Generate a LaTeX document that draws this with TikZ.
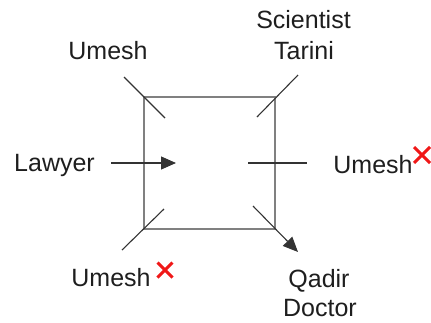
\documentclass[tikz,border=0pt]{standalone}
\usepackage{fontspec}
\setmainfont{Liberation Sans}
\usetikzlibrary{arrows.meta}
\definecolor{txt}{HTML}{1E1E1E}
\definecolor{boxc}{HTML}{808080}
\definecolor{lnc}{HTML}{333333}
\definecolor{xred}{HTML}{F01818}
\begin{document}
\begin{tikzpicture}[x=1pt,y=-1pt,
  lbl/.style={inner sep=0pt, anchor=base, text=txt, font=\fontsize{25}{31}\selectfont},
  boxline/.style={draw=boxc, line width=2.2pt},
  tick/.style={draw=lnc, line width=1.1pt},
  arr/.style={draw=lnc, line width=1.1pt, -{Triangle[length=15pt,width=13pt]}},
  redx/.style={draw=xred, line width=3pt}]
\useasboundingbox (0,0) rectangle (431,322);
% square
\coordinate (tl) at (144,97);
\coordinate (tr) at (275,97);
\coordinate (br) at (275,229);
\coordinate (bl) at (144,229);
\draw[boxline] (tl) -- (tr) -- (br) -- (bl) -- cycle;
% corner ticks
\coordinate (a1) at (124,77);  \coordinate (a2) at (165,118);
\coordinate (b1) at (298,75);  \coordinate (b2) at (257,117);
\coordinate (c1) at (122,250); \coordinate (c2) at (164,209);
\coordinate (d1) at (253,206); \coordinate (d2) at (298,252);
\coordinate (e1) at (111,163); \coordinate (e2) at (176,163);
\coordinate (f1) at (248,163); \coordinate (f2) at (307,163);
\draw[tick] (a1) -- (a2);
\draw[tick] (b1) -- (b2);
\draw[tick] (c1) -- (c2);
\draw[tick] (f1) -- (f2);
\draw[arr] (d1) -- (d2);
\draw[arr] (e1) -- (e2);
% labels
\node[lbl] (u1) at (108,59) {Umesh};
\node[lbl] (sci) at (303.5,28) {Scientist};
\node[lbl] (tar) at (304,59) {Tarini};
\node[lbl] (law) at (54.5,171) {Lawyer};
\node[lbl] (u2) at (373,173) {Umesh};
\node[lbl] (u3) at (111,286) {Umesh};
\node[lbl] (qad) at (319,287) {Qadir};
\node[lbl] (doc) at (320,316) {Doctor};
% red crosses
\coordinate (x1) at (422,155);
\coordinate (x2) at (165,270);
\draw[redx] (x1) ++(-8,-8) -- ++(16,16) (x1) ++(8,-8) -- ++(-16,16);
\draw[redx] (x2) ++(-7.5,-7.5) -- ++(15,15) (x2) ++(7.5,-7.5) -- ++(-15,15);
\end{tikzpicture}
\end{document}
